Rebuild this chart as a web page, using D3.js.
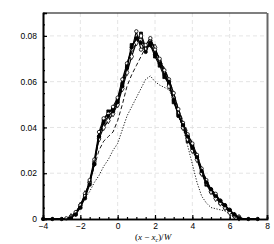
<!DOCTYPE html>
<html>
<head>
<meta charset="utf-8">
<script src="https://cdnjs.cloudflare.com/ajax/libs/d3/7.8.5/d3.min.js"></script>
<style>
  body { margin: 0; background: #fff; }
  svg { display: block; }
</style>
</head>
<body>
<script>
// positions along the x axis, shared by every profile
var xs = [-4, -3.75, -3.5, -3.25, -3, -2.75, -2.5, -2.25, -2, -1.75, -1.5, -1.25, -1, -0.75, -0.5, -0.25,
  0, 0.25, 0.5, 0.75, 1, 1.25, 1.5, 1.75, 2, 2.25, 2.5, 2.75, 3, 3.25, 3.5, 3.75, 4, 4.25, 4.5, 4.75,
  5, 5.25, 5.5, 5.75, 6, 6.25, 6.5, 6.75, 7, 7.25, 7.5];

var s1 = [0, 0, 0, 0, 0, 0, 0.0005, 0.002, 0.005, 0.009, 0.015, 0.024, 0.036, 0.042, 0.045, 0.047, 0.051, 0.058, 0.066, 0.075, 0.079, 0.077, 0.073, 0.077, 0.072, 0.068, 0.063, 0.06, 0.052, 0.045, 0.041, 0.036, 0.031, 0.027, 0.021, 0.016, 0.013, 0.01, 0.008, 0.006, 0.004, 0.002, 0.0005, 0, 0, 0, 0];
var s2 = [0, 0, 0, 0, 0, 0.0003, 0.001, 0.003, 0.006, 0.010, 0.017, 0.026, 0.038, 0.044, 0.046, 0.049, 0.053, 0.061, 0.068, 0.074, 0.082, 0.074, 0.076, 0.079, 0.074, 0.070, 0.065, 0.061, 0.055, 0.048, 0.042, 0.037, 0.033, 0.028, 0.022, 0.017, 0.013, 0.011, 0.008, 0.006, 0.004, 0.002, 0.001, 0, 0, 0, 0];
var s3 = [0, 0, 0, 0, 0, 0, 0.001, 0.0025, 0.006, 0.011, 0.016, 0.025, 0.035, 0.040, 0.043, 0.046, 0.050, 0.057, 0.064, 0.071, 0.077, 0.080, 0.074, 0.078, 0.075, 0.069, 0.064, 0.058, 0.053, 0.046, 0.040, 0.035, 0.030, 0.026, 0.020, 0.016, 0.012, 0.009, 0.007, 0.005, 0.003, 0.0015, 0.0005, 0, 0, 0, 0];
var s4 = [0, 0, 0, 0, 0, 0, 0.0008, 0.002, 0.005, 0.010, 0.016, 0.024, 0.036, 0.043, 0.047, 0.048, 0.052, 0.059, 0.067, 0.076, 0.078, 0.081, 0.075, 0.076, 0.071, 0.067, 0.062, 0.059, 0.051, 0.046, 0.040, 0.034, 0.032, 0.027, 0.020, 0.015, 0.012, 0.010, 0.007, 0.005, 0.0035, 0.0015, 0.0005, 0, 0, 0, 0];
var s5 = [0, 0, 0, 0, 0, 0, 0.0008, 0.0025, 0.006, 0.010, 0.016, 0.025, 0.037, 0.043, 0.046, 0.048, 0.052, 0.060, 0.067, 0.073, 0.077, 0.078, 0.076, 0.075, 0.073, 0.069, 0.064, 0.060, 0.054, 0.047, 0.041, 0.037, 0.032, 0.027, 0.021, 0.017, 0.013, 0.010, 0.008, 0.006, 0.004, 0.002, 0.0005, 0, 0, 0, 0];
var s6 = [0, 0, 0, 0, 0, 0, 0.0008, 0.0025, 0.006, 0.010, 0.016, 0.023, 0.030, 0.034, 0.036, 0.038, 0.043, 0.050, 0.058, 0.063, 0.067, 0.071, 0.075, 0.078, 0.074, 0.070, 0.066, 0.061, 0.055, 0.048, 0.043, 0.038, 0.033, 0.028, 0.022, 0.017, 0.013, 0.010, 0.008, 0.006, 0.004, 0.002, 0.0005, 0, 0, 0, 0];
var s7 = [0, 0, 0, 0, 0, 0, 0.001, 0.003, 0.006, 0.009, 0.012, 0.016, 0.019, 0.023, 0.026, 0.030, 0.033, 0.039, 0.045, 0.049, 0.053, 0.057, 0.061, 0.0625, 0.060, 0.0585, 0.0575, 0.0565, 0.052, 0.045, 0.040, 0.032, 0.024, 0.016, 0.010, 0.007, 0.005, 0.0045, 0.004, 0.0035, 0.002, 0.001, 0, 0, 0, 0, 0];

var xTicks = [-4, -2, 0, 2, 4, 6, 8];
var yTicks = [0, 0.02, 0.04, 0.06, 0.08];

var W = 274, H = 244;
var padL = 43, padR = 267, padT = 13, padB = 219;

var svg = d3.select("body").append("svg")
    .attr("width", W)
    .attr("height", H);

var x = d3.scaleLinear().domain([-4, 8]).range([padL, padR]);
var y = d3.scaleLinear().domain([0, 0.09]).range([padB, padT]);

// dashed grid
var grid = svg.append("g");
grid.selectAll("line.gx").data(xTicks.slice(1, -1)).enter().append("line")
    .attr("x1", d => x(d)).attr("x2", d => x(d))
    .attr("y1", padT).attr("y2", padB)
    .attr("stroke", "#ddd").attr("stroke-width", 0.8)
    .attr("stroke-dasharray", "4,3");
grid.selectAll("line.gy").data(yTicks.slice(1)).enter().append("line")
    .attr("x1", padL).attr("x2", padR)
    .attr("y1", d => y(d)).attr("y2", d => y(d))
    .attr("stroke", "#ddd").attr("stroke-width", 0.8)
    .attr("stroke-dasharray", "4,3");

// curves
var line = d3.line()
    .x(d => x(d[0]))
    .y(d => y(d[1]));

var series = [
  { v: s7, dash: "1.2,1.6", mark: null },
  { v: s6, dash: "4,2.5", mark: null },
  { v: s5, dash: "7,2,1.5,2", mark: null },
  { v: s4, dash: null, mark: "square" },
  { v: s3, dash: null, mark: "diamond" },
  { v: s2, dash: null, mark: "open" },
  { v: s1, dash: null, mark: "dot" }
];

var plot = svg.append("g");
series.forEach(function (s) {
  var pts = xs.map((xv, i) => [xv, s.v[i]]);
  plot.append("path")
      .datum(pts)
      .attr("d", line)
      .attr("fill", "none")
      .attr("stroke", "#000")
      .attr("stroke-width", s.mark ? 1.1 : 0.9)
      .attr("stroke-dasharray", s.dash);

  if (s.mark) {
    var sym = d3.symbol()
        .type(s.mark == "square" ? d3.symbolSquare : s.mark == "diamond" ? d3.symbolDiamond : d3.symbolCircle)
        .size(s.mark == "diamond" ? 12 : 9);
    // only the filled-dot profile keeps its markers out on the flat tails
    var shown = s.mark == "dot" ? pts.filter((d, i) => d[1] > 0 || i % 2 == 0) : pts.filter(d => d[1] > 0);
    plot.selectAll(null).data(shown).enter().append("path")
        .attr("d", sym)
        .attr("transform", d => "translate(" + x(d[0]) + "," + y(d[1]) + ")")
        .attr("fill", (s.mark == "open" || s.mark == "diamond") ? "#fff" : "#000")
        .attr("stroke", "#000")
        .attr("stroke-width", 0.8);
  }
});

// frame
svg.append("line").attr("x1", padL).attr("x2", padR).attr("y1", padT).attr("y2", padT)
    .attr("stroke", "#000").attr("stroke-width", 1.2);
svg.append("line").attr("x1", padR + 0.5).attr("x2", padR + 0.5).attr("y1", padT).attr("y2", padB)
    .attr("stroke", "#666").attr("stroke-width", 2);

// axes, ticks pointing inward
var xAxis = d3.axisBottom(x).tickValues(xTicks).tickSize(-4).tickPadding(4).tickFormat(d3.format("d"));
var xMinor = d3.axisBottom(x).tickValues(d3.range(-4, 8.01, 0.5)).tickSize(-2).tickFormat("");
var yAxis = d3.axisLeft(y).tickValues(yTicks).tickSize(-4).tickPadding(6)
    .tickFormat(d => d == 0 ? "0" : d3.format(".2f")(d));
var yMinor = d3.axisLeft(y).tickValues(d3.range(0, 0.0901, 0.005)).tickSize(-2).tickFormat("");

function styleAxis(g) {
  g.select(".domain").attr("stroke", "#000").attr("stroke-width", 1.6);
  g.selectAll(".tick line").attr("stroke", "#000").attr("stroke-width", 1.2);
  g.selectAll(".tick text")
      .attr("font-family", "Liberation Sans, Arial, sans-serif")
      .attr("font-size", 8.5)
      .attr("fill", "#000");
}

svg.append("g").attr("transform", "translate(0," + padB + ")").call(xMinor).call(styleAxis);
svg.append("g").attr("transform", "translate(0," + padB + ")").call(xAxis).call(styleAxis);
svg.append("g").attr("transform", "translate(" + padL + ",0)").call(yMinor).call(styleAxis);
svg.append("g").attr("transform", "translate(" + padL + ",0)").call(yAxis).call(styleAxis);

// x axis title: (x - x_c)/W
var title = svg.append("text")
    .attr("x", (padL + padR) / 2 - 2)
    .attr("y", 240)
    .attr("text-anchor", "middle")
    .attr("font-family", "Liberation Serif, Times New Roman, serif")
    .attr("font-size", 9)
    .attr("fill", "#000");
title.append("tspan").text("(");
title.append("tspan").attr("font-style", "italic").text("x");
title.append("tspan").text(" \u2212 ");
title.append("tspan").attr("font-style", "italic").text("x");
title.append("tspan").attr("font-style", "italic").attr("font-size", 6).attr("dy", 1.5).text("c");
title.append("tspan").attr("dy", -1.5).text(")/");
title.append("tspan").attr("font-style", "italic").text("W");
</script>
</body>
</html>
